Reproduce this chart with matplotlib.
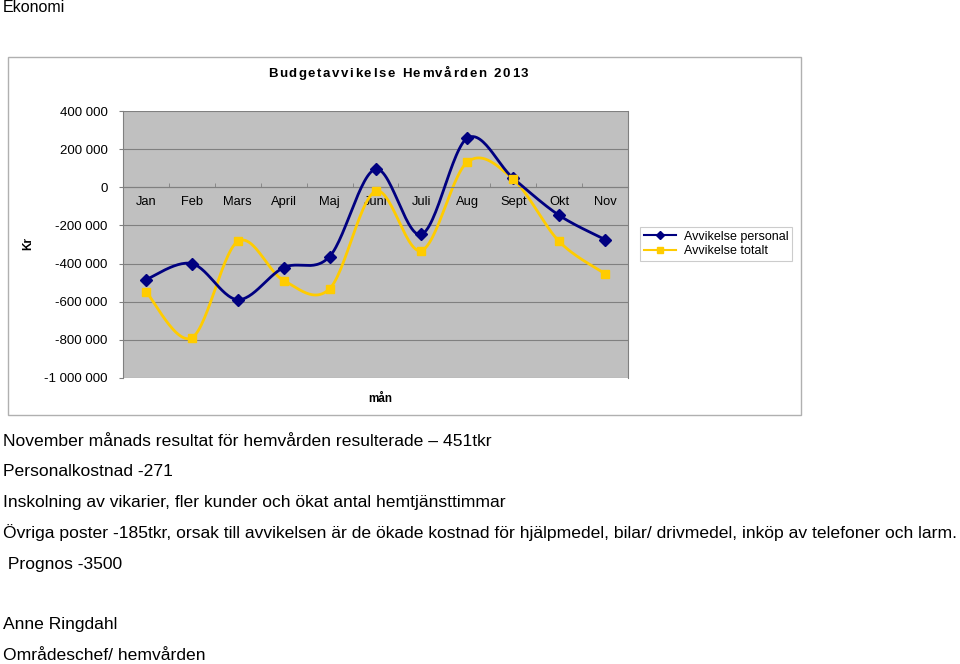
import numpy as np
import matplotlib.pyplot as plt
from matplotlib.patches import Rectangle
from matplotlib.lines import Line2D
from matplotlib.ticker import FuncFormatter

months = ["Jan", "Feb", "Mars", "April", "Maj", "Juni", "Juli", "Aug", "Sept", "Okt", "Nov"]
avvikelse_personal = [-484000, -400000, -589000, -421000, -363000, 95000,
                      -247000, 258000, 47000, -147000, -274000]
avvikelse_totalt = [-547000, -789000, -284000, -489000, -532000, -21000,
                    -332000, 132000, 42000, -284000, -453000]

title = "Budgetavvikelse Hemvården 2013"
body_lines = [
    (441, "November månads resultat för hemvården resulterade – 451tkr"),
    (471, "Personalkostnad -271"),
    (502, "Inskolning av vikarier, fler kunder och ökat antal hemtjänsttimmar"),
    (533, "Övriga poster -185tkr, orsak till avvikelsen är de ökade kostnad för hjälpmedel, bilar/ drivmedel, inköp av telefoner och larm."),
    (564, " Prognos -3500"),
    (625, "Anne Ringdahl"),
    (656, "Områdeschef/ hemvården"),
]

W, H = 960, 664
NAVY = "#000080"
YELLOW = "#FFCC00"
plt.rcParams["font.family"] = ["Liberation Sans", "DejaVu Sans"]


def smooth(ys, n=30):
    # Catmull-Rom curve through the points, like Excel's smoothed line
    pts = np.column_stack([np.arange(len(ys), dtype=float), np.array(ys, dtype=float)])
    ext = np.vstack([pts[0], pts, pts[-1]])
    out = []
    for i in range(1, len(ext) - 2):
        p0, p1, p2, p3 = ext[i - 1], ext[i], ext[i + 1], ext[i + 2]
        t = np.linspace(0, 1, n)[:, None]
        c = 0.5 * ((2 * p1) + (-p0 + p2) * t + (2 * p0 - 5 * p1 + 4 * p2 - p3) * t ** 2
                   + (-p0 + 3 * p1 - 3 * p2 + p3) * t ** 3)
        out.append(c)
    c = np.vstack(out)
    return c[:, 0], c[:, 1]


def fx(px):
    return px / W


def fy(py):
    return 1 - py / H


def spaced_text(fig, cx, py, s, size, track, **kw):
    # lay out characters one by one with extra letter spacing (Excel look)
    r = fig.canvas.get_renderer()
    widths = []
    for ch in s:
        t = fig.text(0, 0, ch if ch != " " else "n", fontsize=size, **kw)
        w = t.get_window_extent(r).width
        if ch == " ":
            w *= 0.5
        widths.append(w)
        t.remove()
    total = sum(widths) + track * (len(s) - 1)
    x = cx - total / 2
    for ch, w in zip(s, widths):
        if ch != " ":
            fig.text(fx(x), fy(py), ch, ha="left", va="center", fontsize=size, **kw)
        x += w + track


fig = plt.figure(figsize=(W / 100, H / 100), dpi=100)

# chart frame
fig.patches.append(Rectangle((fx(8), fy(415)), fx(801) - fx(8), fy(57) - fy(415),
                             transform=fig.transFigure, facecolor="white",
                             edgecolor="#b0b0b0", linewidth=1.0, zorder=-5))

ax = fig.add_axes([fx(123), fy(378), fx(628) - fx(123), fy(111) - fy(378)])
ax.set_facecolor("#C0C0C0")
ax.set_xlim(-0.5, len(months) - 0.5)
ax.set_ylim(-1000000, 400000)
ax.set_yticks(np.arange(-1000000, 400001, 200000))
ax.yaxis.set_major_formatter(FuncFormatter(lambda v, _: f"{int(v):,}".replace(",", " ")))
ax.grid(axis="y", color="#808080", linewidth=0.8)
ax.set_axisbelow(True)
for s in ["left", "right", "top"]:
    ax.spines[s].set_color("#808080")
    ax.spines[s].set_linewidth(0.8)
ax.spines["top"].set_visible(False)
ax.spines["bottom"].set_position(("data", 0))
ax.spines["bottom"].set_color("#808080")
ax.spines["bottom"].set_linewidth(0.8)
ax.set_xticks(range(len(months)))
ax.set_xticklabels(months)
ax.set_xticks(np.arange(-0.5, len(months), 1), minor=True)
ax.tick_params(axis="x", which="major", length=0, pad=6, labelsize=9.3)
ax.tick_params(axis="x", which="minor", length=3, direction="in", color="#808080")
ax.tick_params(axis="y", length=3, direction="out", color="#808080", labelsize=9.5, pad=8)

x = np.arange(len(months))
sx, sy = smooth(avvikelse_personal)
ax.plot(sx, sy, color=NAVY, linewidth=2.0, zorder=3)
ax.plot(x, avvikelse_personal, linestyle="none", marker="D", markersize=6,
        color=NAVY, zorder=4)
sx, sy = smooth(avvikelse_totalt)
ax.plot(sx, sy, color=YELLOW, linewidth=2.0, zorder=2)
ax.plot(x, avvikelse_totalt, linestyle="none", marker="s", markersize=6,
        color=YELLOW, zorder=4)

handles = [Line2D([], [], color=NAVY, linewidth=1.5, marker="D", markersize=4),
           Line2D([], [], color=YELLOW, linewidth=1.5, marker="s", markersize=4)]
leg = fig.legend(handles, ["Avvikelse personal", "Avvikelse totalt"],
                 loc="upper left", bbox_to_anchor=(fx(640), fy(227)), borderaxespad=0,
                 fontsize=9, frameon=True, fancybox=False, edgecolor="#c0c0c0",
                 handlelength=2.6, borderpad=0.3, labelspacing=0.2, handletextpad=0.6)
leg.get_frame().set_linewidth(0.8)

spaced_text(fig, 398, 74, title, 9.5, 1.6, fontweight="bold")
fig.text(fx(28), fy(243), "Kr", ha="center", va="center", fontsize=8.5,
         fontweight="bold", rotation=90)
fig.text(fx(380), fy(399), "mån", ha="center", va="center", fontsize=8.5,
         fontweight="bold")

fig.text(fx(3), fy(8), "Ekonomi", ha="left", va="center", fontsize=11.5)
for py, line in body_lines:
    fig.text(fx(3), fy(py), line, ha="left", va="center", fontsize=12.6)

fig.savefig("out.png", dpi=100)
